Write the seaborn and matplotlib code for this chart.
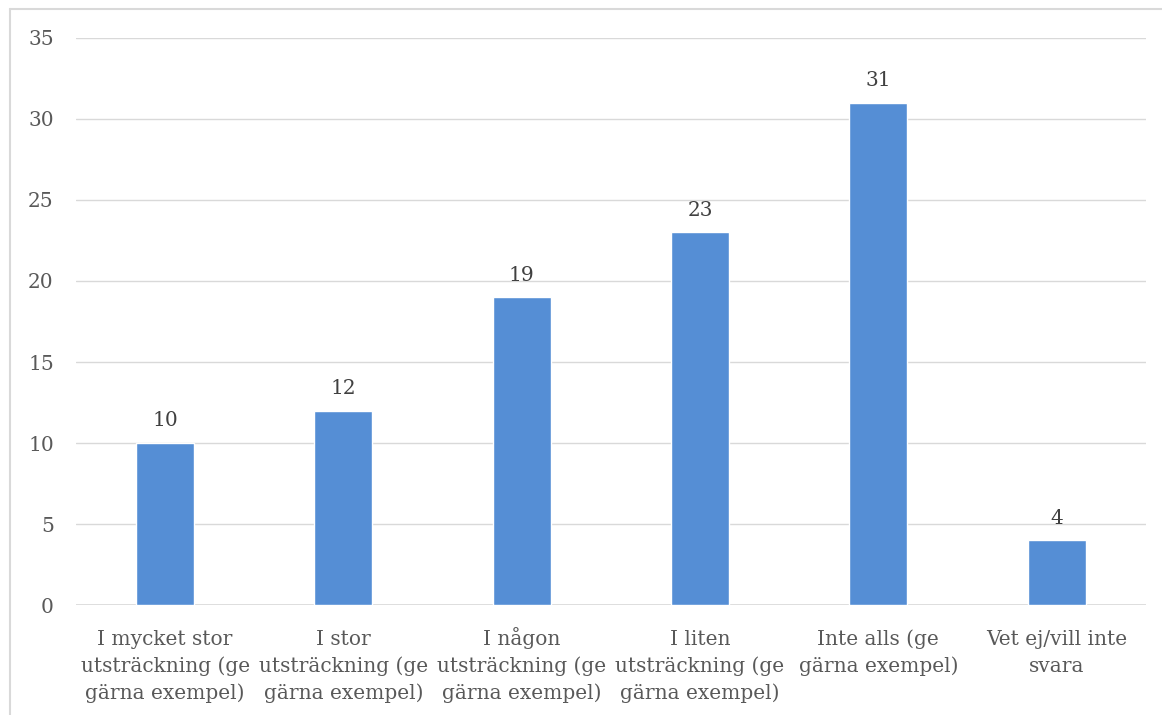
import pandas as pd
import matplotlib
matplotlib.use("Agg")
import matplotlib.pyplot as plt
import seaborn as sns
from matplotlib.lines import Line2D

categories = [
    "I mycket stor\nutsträckning (ge\ngärna exempel)",
    "I stor\nutsträckning (ge\ngärna exempel)",
    "I någon\nutsträckning (ge\ngärna exempel)",
    "I liten\nutsträckning (ge\ngärna exempel)",
    "Inte alls (ge\ngärna exempel)",
    "Vet ej/vill inte\nsvara",
]
values = [10, 12, 19, 23, 31, 4]
yticks = [0, 5, 10, 15, 20, 25, 30, 35]

df = pd.DataFrame({"category": categories, "value": values})

sns.set_theme(style="white")
plt.rcParams['font.family'] = ['DejaVu Serif']
text_color = "#595959"
grid_color = "#D9D9D9"
fs = 14.5

fig = plt.figure(figsize=(11.62, 7.15), dpi=100)
ax = fig.add_axes([0.0654, 0.1538, 0.9206, 0.7931])

sns.barplot(data=df, x="category", y="value", color="#558ED5", width=0.325,
            saturation=1, ax=ax, zorder=3)

ax.set_ylim(0, 35)
ax.set_xlim(-0.5, len(categories) - 0.5)
ax.set_yticks(yticks)
ax.yaxis.grid(True, color=grid_color, linewidth=1.0, zorder=0)
ax.set_axisbelow(True)
for s in ax.spines.values():
    s.set_visible(False)
ax.axhline(0, color=grid_color, linewidth=1.2, zorder=2)
ax.set_xlabel("")
ax.set_ylabel("")
ax.tick_params(axis="both", length=0, labelsize=fs, colors=text_color)
ax.tick_params(axis="y", pad=16)

# category labels, line by line so every baseline lines up
ax.set_xticklabels([])
for i, cat in enumerate(categories):
    for j, line in enumerate(cat.split("\n")):
        ax.annotate(line, xy=(i, 0), xycoords=("data", "axes fraction"),
                    xytext=(0, -29 - j * 19.5), textcoords="offset points",
                    ha="center", va="baseline", fontsize=fs, color=text_color)

# value labels
for i, v in enumerate(values):
    ax.annotate(str(v), xy=(i, v), xytext=(0, 12), textcoords="offset points",
                ha="center", va="baseline", fontsize=fs, color="#404040")

# chart frame (top and left edges visible)
fig.add_artist(Line2D([10 / 1162, 1.0], [1 - 9 / 715, 1 - 9 / 715], color=grid_color, linewidth=1.5,
                      transform=fig.transFigure))
fig.add_artist(Line2D([10 / 1162, 10 / 1162], [1 - 9 / 715, 0.0], color=grid_color, linewidth=1.5,
                      transform=fig.transFigure))

fig.savefig("out.png", dpi=100, facecolor="white")
